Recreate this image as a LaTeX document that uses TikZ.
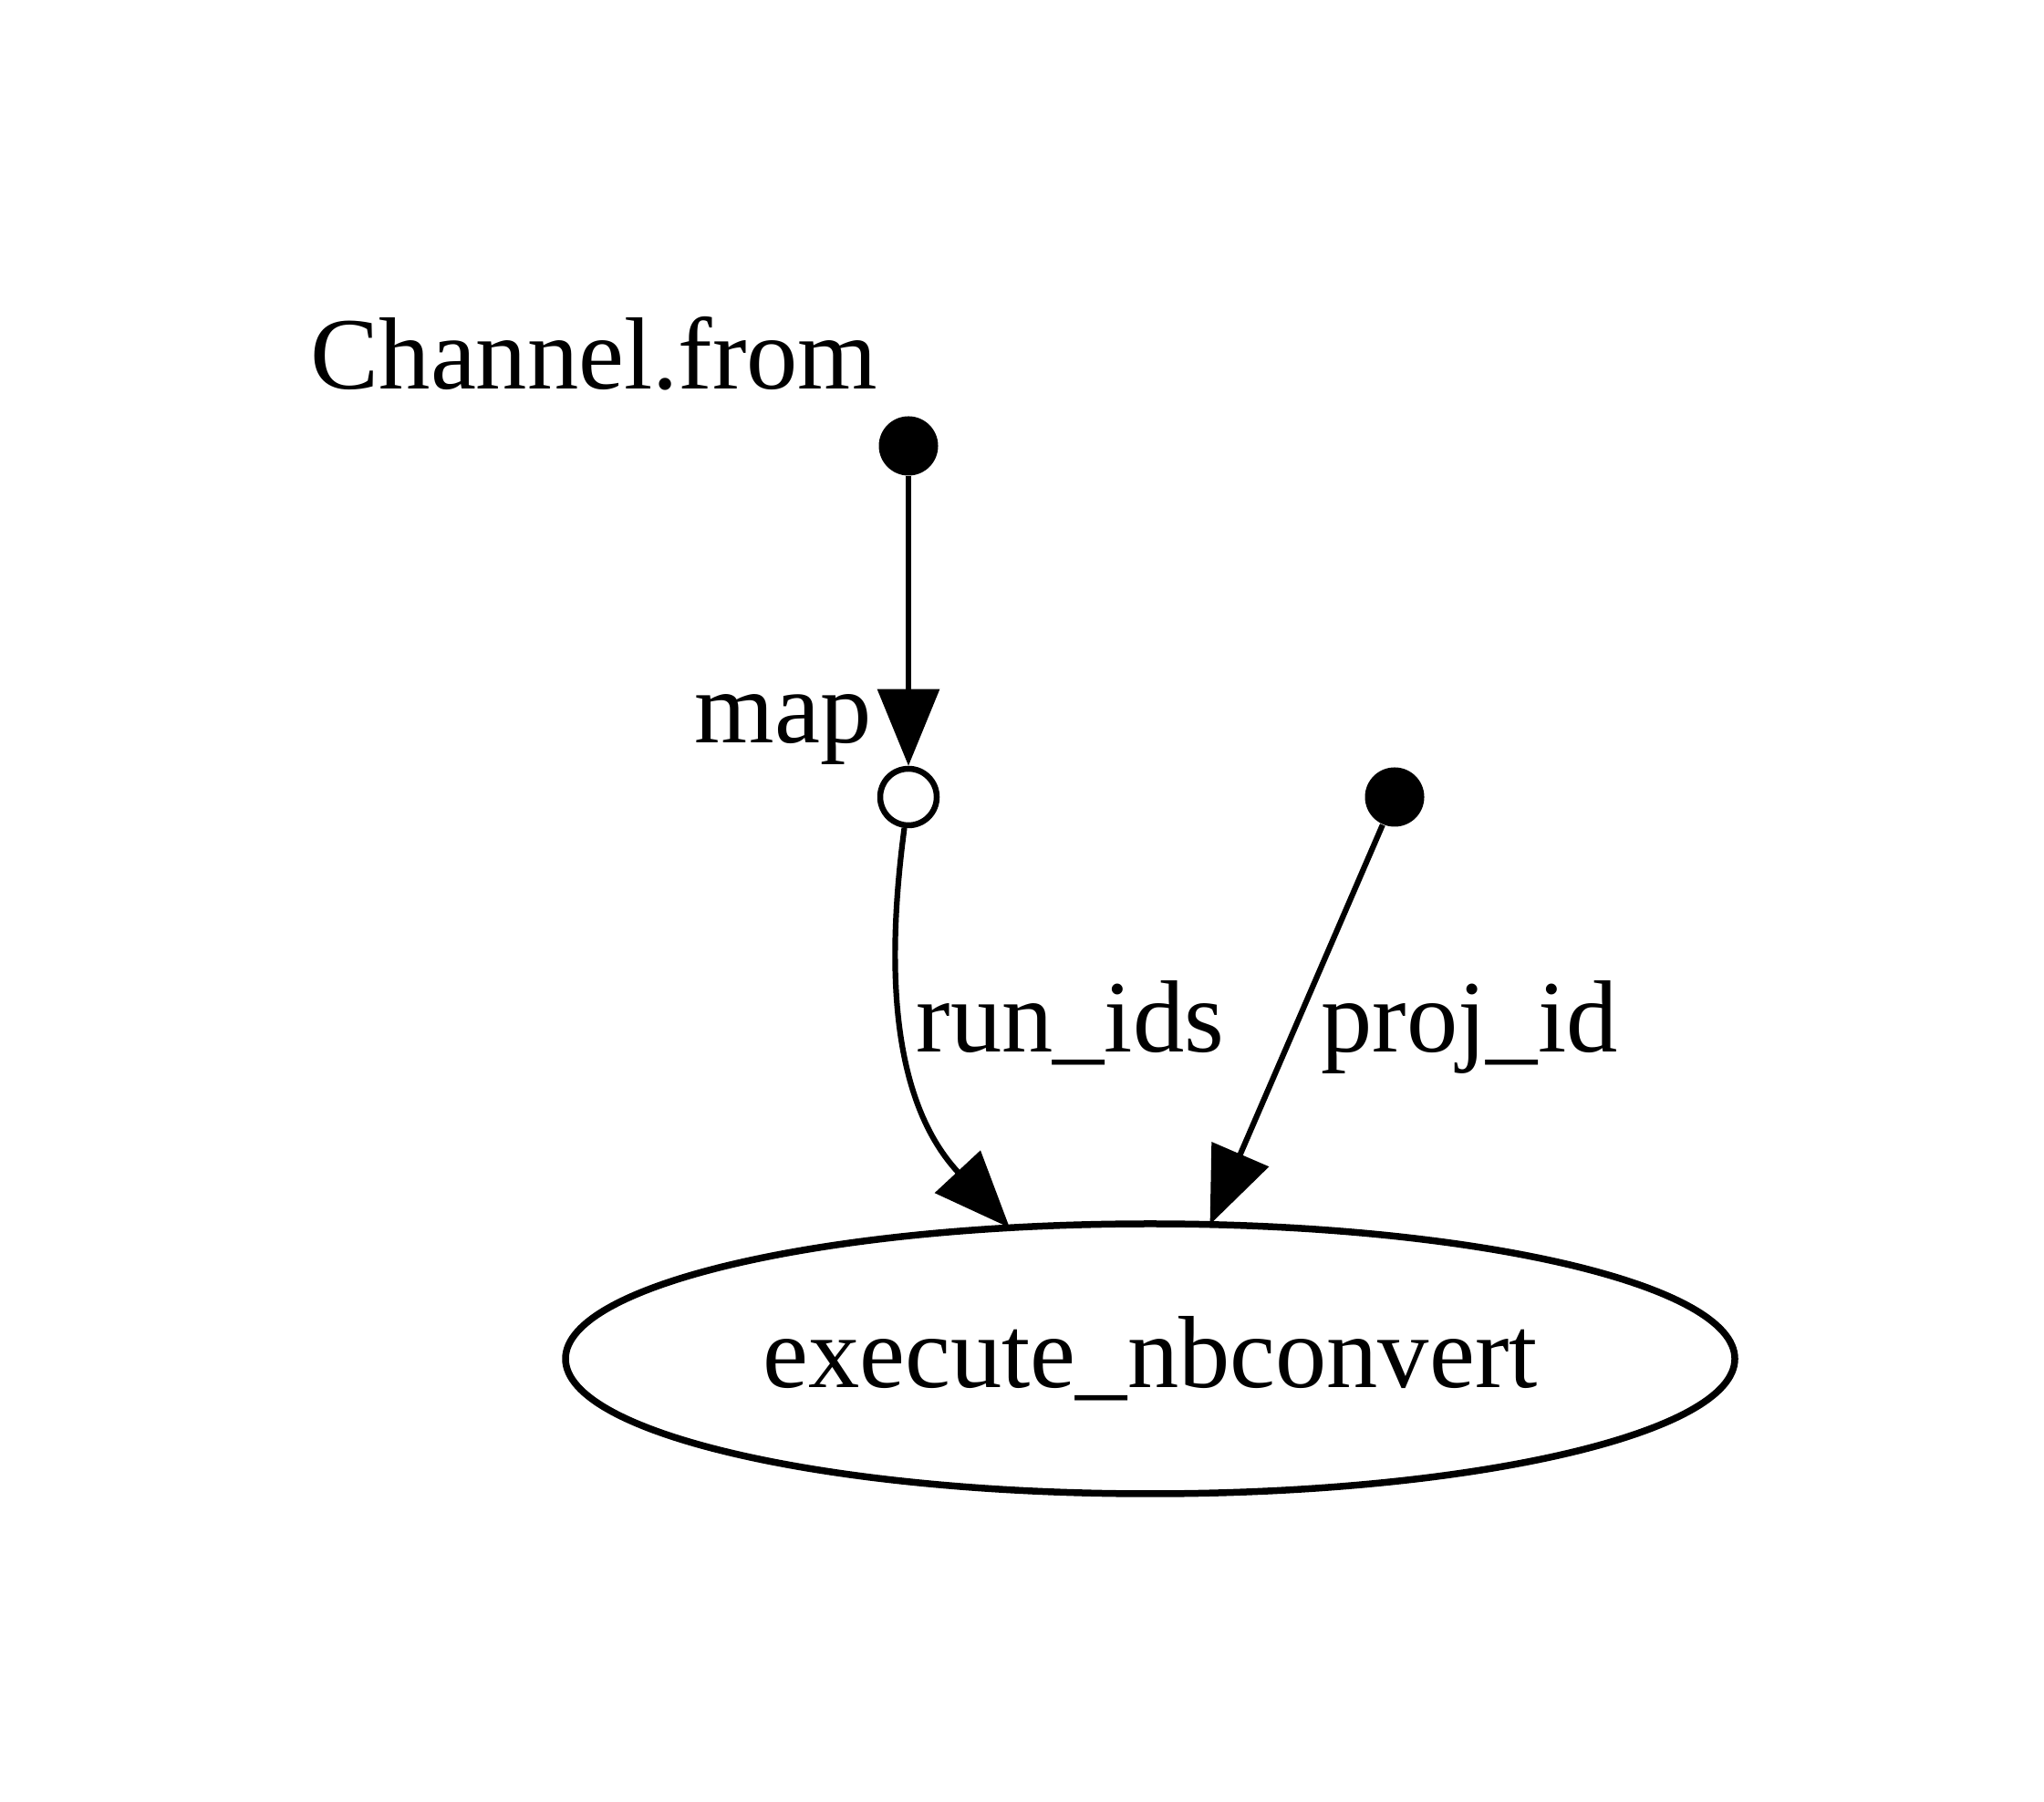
\documentclass[tikz,border=0pt]{standalone}
\usepackage{fontspec}
\setmainfont{Liberation Serif}
\usepackage{tikz}
\usetikzlibrary{arrows.meta,positioning,calc,shapes.geometric}

\begin{document}
\begin{tikzpicture}[
  font=\fontsize{32}{38}\selectfont,
  dot/.style={circle, fill=black, inner sep=0pt, minimum size=6.5mm},
  hole/.style={circle, draw, fill=white, line width=0.65mm, inner sep=0pt, minimum size=6.2mm},
  task/.style={ellipse, draw, line width=0.75mm, inner sep=0pt, outer sep=0pt,
    minimum width=128.2mm, minimum height=29.6mm},
  lbl/.style={inner sep=0pt},
  edge/.style={line width=0.62mm, -{Triangle[length=8.4mm, width=6.7mm]}}]
  \useasboundingbox (0,0) rectangle (22.41,19.75);
  \node[dot] (src) at (9.96,14.86) {};
  \node[hole] (mapop) at (9.96,11.01) {};
  \node[dot] (projsrc) at (15.29,11.01) {};
  \node[task] (exec) at (12.61,4.85) {execute\_nbconvert};
  \node[lbl, anchor=base east] (srclbl) at ($(src)+(-0.33,0.62)$) {Channel.from};
  \node[lbl, anchor=base east] (maplbl) at ($(mapop)+(-0.40,0.59)$) {map};
  \draw[edge] (src) -- (mapop);
  \draw[edge] (mapop) .. controls (9.74,9.35) and (9.71,7.75) .. (exec.137);
  \draw[edge] (projsrc) -- (exec.66);
  \node[lbl, anchor=base west] (runlbl) at (10.04,8.21) {run\_ids};
  \node[lbl, anchor=base west] (projlbl) at (14.48,8.21) {proj\_id};
\end{tikzpicture}
\end{document}
